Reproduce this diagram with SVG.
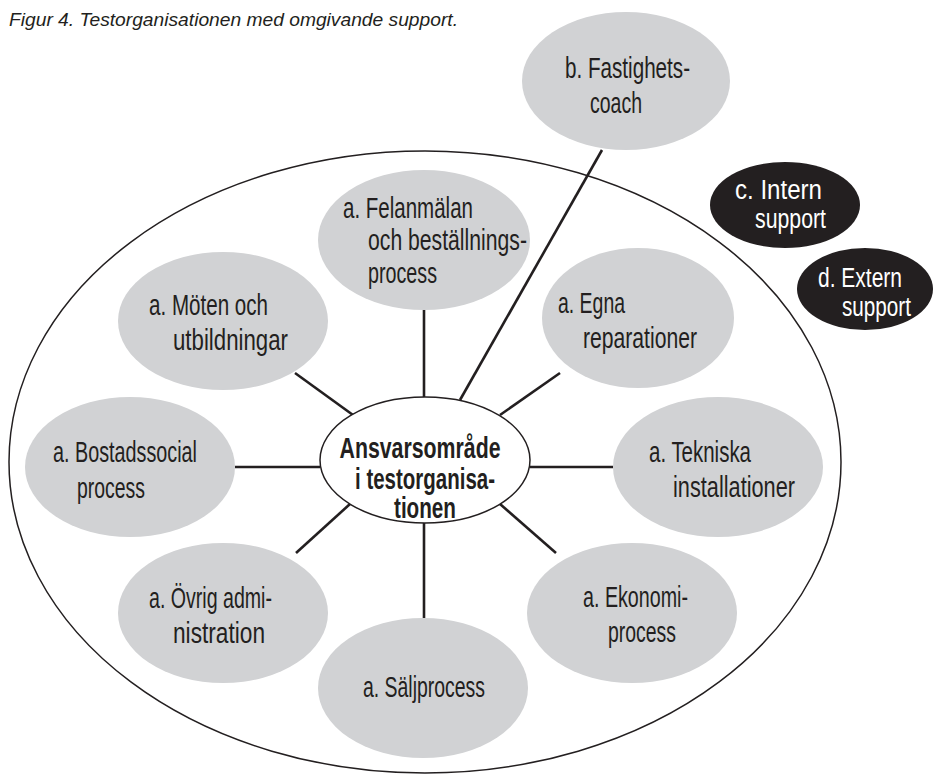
<svg xmlns="http://www.w3.org/2000/svg" width="933" height="774" viewBox="0 0 933 774">
  <style>
    .bg { fill: #ffffff; }
    .area { fill: none; stroke: #231f20; stroke-width: 1.5; }
    .core { fill: #ffffff; stroke: #231f20; stroke-width: 1.5; }
    .unit { fill: #d1d2d4; }
    .support { fill: #231f20; }
    .link { stroke: #231f20; stroke-width: 2.6; fill: none; }
    .lbl { font-family: "Liberation Sans Narrow", "Liberation Sans", Arial, sans-serif; font-size: 29px; fill: #231f20; }
    .lbl-w { font-family: "Liberation Sans Narrow", "Liberation Sans", Arial, sans-serif; font-size: 27px; fill: #ffffff; }
    .lbl-b { font-family: "Liberation Sans Narrow", "Liberation Sans", Arial, sans-serif; font-size: 29px; font-weight: bold; fill: #231f20; text-anchor: middle; }
    .title { font-family: "Liberation Sans", Arial, sans-serif; font-size: 19px; font-style: italic; fill: #231f20; }
  </style>

  <rect class="bg" x="0" y="0" width="933" height="774"/>

  <text class="title" x="9" y="26" textLength="449" lengthAdjust="spacingAndGlyphs">Figur 4. Testorganisationen med omgivande support.</text>

  <!-- boundary of the organisation -->
  <ellipse class="area" cx="425" cy="462" rx="416" ry="311"/>

  <g id="connectors">
    <line class="link" x1="424" y1="310" x2="424" y2="397"/>
    <line class="link" x1="602" y1="150" x2="460" y2="400"/>
    <line class="link" x1="560" y1="373" x2="500" y2="415"/>
    <line class="link" x1="295" y1="373" x2="353" y2="415"/>
    <line class="link" x1="235" y1="467" x2="320" y2="467"/>
    <line class="link" x1="530" y1="467" x2="613" y2="467"/>
    <line class="link" x1="350" y1="504" x2="296" y2="553"/>
    <line class="link" x1="500" y1="504" x2="556" y2="553"/>
    <line class="link" x1="424" y1="523" x2="424" y2="618"/>
  </g>

  <g id="fastighetscoach">
    <ellipse class="unit" cx="626" cy="81" rx="104" ry="69"/>
    <text class="lbl" x="565" y="78" textLength="125" lengthAdjust="spacingAndGlyphs">b. Fastighets-</text>
    <text class="lbl" x="590" y="113" textLength="52" lengthAdjust="spacingAndGlyphs">coach</text>
  </g>

  <g id="felanmalan">
    <ellipse class="unit" cx="424" cy="240" rx="106" ry="70"/>
    <text class="lbl" x="343" y="218" textLength="130" lengthAdjust="spacingAndGlyphs">a. Felanmälan</text>
    <text class="lbl" x="368" y="250" textLength="159" lengthAdjust="spacingAndGlyphs">och beställnings-</text>
    <text class="lbl" x="368" y="283" textLength="69" lengthAdjust="spacingAndGlyphs">process</text>
  </g>

  <g id="moten">
    <ellipse class="unit" cx="223" cy="321" rx="105" ry="69"/>
    <text class="lbl" x="149" y="315" textLength="119" lengthAdjust="spacingAndGlyphs">a. Möten och</text>
    <text class="lbl" x="173" y="350" textLength="115" lengthAdjust="spacingAndGlyphs">utbildningar</text>
  </g>

  <g id="egna">
    <ellipse class="unit" cx="638" cy="318" rx="96" ry="70"/>
    <text class="lbl" x="558" y="313" textLength="67" lengthAdjust="spacingAndGlyphs">a. Egna</text>
    <text class="lbl" x="583" y="348" textLength="114" lengthAdjust="spacingAndGlyphs">reparationer</text>
  </g>

  <g id="bostadssocial">
    <ellipse class="unit" cx="130" cy="467" rx="105" ry="70"/>
    <text class="lbl" x="53" y="462" textLength="144" lengthAdjust="spacingAndGlyphs">a. Bostadssocial</text>
    <text class="lbl" x="77" y="498" textLength="68" lengthAdjust="spacingAndGlyphs">process</text>
  </g>

  <g id="tekniska">
    <ellipse class="unit" cx="718" cy="467" rx="105" ry="70"/>
    <text class="lbl" x="649" y="462" textLength="102" lengthAdjust="spacingAndGlyphs">a. Tekniska</text>
    <text class="lbl" x="673" y="497" textLength="122" lengthAdjust="spacingAndGlyphs">installationer</text>
  </g>

  <g id="ovrig">
    <ellipse class="unit" cx="223" cy="613" rx="105" ry="70"/>
    <text class="lbl" x="149" y="608" textLength="123" lengthAdjust="spacingAndGlyphs">a. Övrig admi-</text>
    <text class="lbl" x="173" y="643" textLength="92" lengthAdjust="spacingAndGlyphs">nistration</text>
  </g>

  <g id="ekonomi">
    <ellipse class="unit" cx="632" cy="613" rx="105" ry="70"/>
    <text class="lbl" x="583" y="607" textLength="105" lengthAdjust="spacingAndGlyphs">a. Ekonomi-</text>
    <text class="lbl" x="608" y="642" textLength="68" lengthAdjust="spacingAndGlyphs">process</text>
  </g>

  <g id="saljprocess">
    <ellipse class="unit" cx="423" cy="688" rx="105" ry="70"/>
    <text class="lbl" x="363" y="697" textLength="122" lengthAdjust="spacingAndGlyphs">a. Säljprocess</text>
  </g>

  <g id="ansvarsomrade">
    <ellipse class="core" cx="425" cy="460" rx="105" ry="63"/>
    <text class="lbl-b" x="420" y="458" textLength="161" lengthAdjust="spacingAndGlyphs">Ansvarsområde</text>
    <text class="lbl-b" x="425" y="489" textLength="140" lengthAdjust="spacingAndGlyphs">i testorganisa-</text>
    <text class="lbl-b" x="425" y="518" textLength="62" lengthAdjust="spacingAndGlyphs">tionen</text>
  </g>

  <g id="intern-support">
    <ellipse class="support" cx="785" cy="205" rx="75" ry="43"/>
    <text class="lbl-w" x="735" y="199" textLength="87" lengthAdjust="spacingAndGlyphs">c. Intern</text>
    <text class="lbl-w" x="755" y="228" textLength="71" lengthAdjust="spacingAndGlyphs">support</text>
  </g>

  <g id="extern-support">
    <ellipse class="support" cx="865" cy="289" rx="68" ry="41"/>
    <text class="lbl-w" x="818" y="287" textLength="84" lengthAdjust="spacingAndGlyphs">d. Extern</text>
    <text class="lbl-w" x="842" y="316" textLength="69" lengthAdjust="spacingAndGlyphs">support</text>
  </g>
</svg>
